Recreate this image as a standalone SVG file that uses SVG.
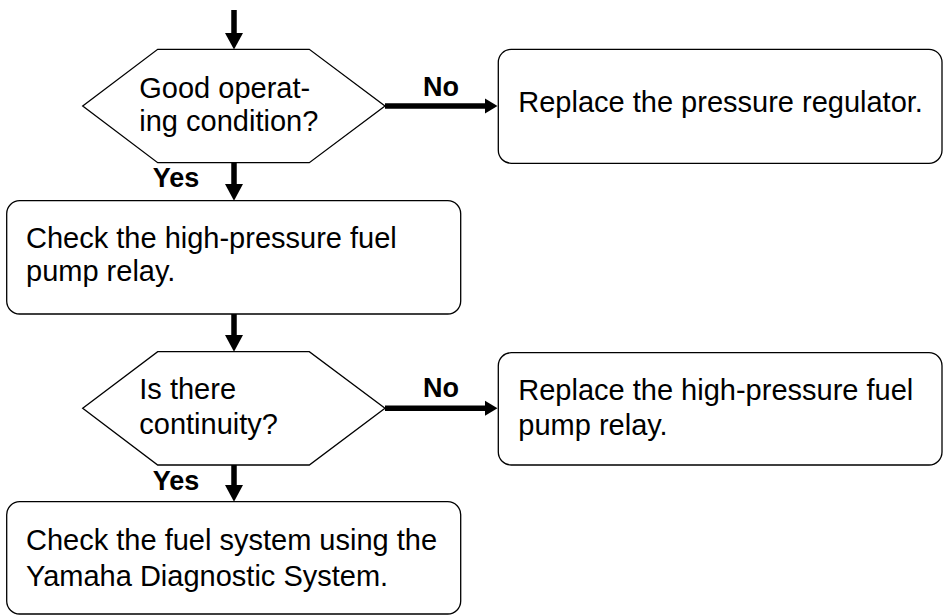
<svg xmlns="http://www.w3.org/2000/svg" width="943" height="615" viewBox="0 0 943 615">
  <style>
    .box { fill: #fff; stroke: #000; stroke-width: 1.3; }
    .txt { font-family: "Liberation Sans", Arial, sans-serif; font-size: 29px; fill: #000; }
    .lbl { font-family: "Liberation Sans", Arial, sans-serif; font-size: 27px; font-weight: bold; fill: #000; }
    .wire { stroke: #000; stroke-width: 5.5; fill: none; }
    .head { fill: #000; }
  </style>
  <rect width="943" height="615" fill="#fff"/>

  <g id="connectors">
    <!-- entry arrow -->
    <line class="wire" x1="234" y1="10" x2="234" y2="34"/>
    <polygon class="head" points="225,33 243,33 234,49.5"/>
    <!-- decision 1: No -->
    <line class="wire" x1="385" y1="106" x2="487" y2="106"/>
    <polygon class="head" points="485,98.5 485,113.5 497.5,106"/>
    <!-- decision 1: Yes -->
    <line class="wire" x1="234" y1="162.7" x2="234" y2="185"/>
    <polygon class="head" points="225,184 243,184 234,200.7"/>
    <!-- relay check to decision 2 -->
    <line class="wire" x1="234" y1="314" x2="234" y2="336"/>
    <polygon class="head" points="225,335 243,335 234,351.7"/>
    <!-- decision 2: No -->
    <line class="wire" x1="385" y1="408.3" x2="487" y2="408.3"/>
    <polygon class="head" points="485,400.8 485,415.8 497.5,408.3"/>
    <!-- decision 2: Yes -->
    <line class="wire" x1="234" y1="465" x2="234" y2="486"/>
    <polygon class="head" points="225,485 243,485 234,501.7"/>

    <text class="lbl" x="423" y="95.7">No</text>
    <text class="lbl" x="152.7" y="186.7">Yes</text>
    <text class="lbl" x="423" y="397.3">No</text>
    <text class="lbl" x="152.7" y="490">Yes</text>
  </g>

  <g id="decision-condition">
    <polygon class="box" points="82.7,106 157.7,49.3 309.3,49.3 385,106 309.3,162.7 157.7,162.7"/>
    <text class="txt" x="139.3" y="98.3">Good operat-</text>
    <text class="txt" x="139.3" y="131">ing condition?</text>
  </g>

  <g id="replace-regulator">
    <rect class="box" x="498.3" y="49.3" width="443.7" height="114" rx="13" ry="13"/>
    <text class="txt" x="518.3" y="111.7">Replace the pressure regulator.</text>
  </g>

  <g id="check-relay">
    <rect class="box" x="6.7" y="200.7" width="454" height="113.3" rx="13" ry="13"/>
    <text class="txt" x="26" y="248.3">Check the high-pressure fuel</text>
    <text class="txt" x="26" y="281">pump relay.</text>
  </g>

  <g id="decision-continuity">
    <polygon class="box" points="82.7,408.3 157.7,351.7 309.3,351.7 385,408.3 309.3,465 157.7,465"/>
    <text class="txt" x="139.3" y="399.3">Is there</text>
    <text class="txt" x="139.3" y="434.3">continuity?</text>
  </g>

  <g id="replace-relay">
    <rect class="box" x="498.3" y="352.7" width="443.7" height="112.3" rx="13" ry="13"/>
    <text class="txt" x="518.3" y="400">Replace the high-pressure fuel</text>
    <text class="txt" x="518.3" y="435">pump relay.</text>
  </g>

  <g id="check-fuel-system">
    <rect class="box" x="6.7" y="501.7" width="454" height="112.3" rx="13" ry="13"/>
    <text class="txt" x="26" y="550">Check the fuel system using the</text>
    <text class="txt" x="26" y="586">Yamaha Diagnostic System.</text>
  </g>
</svg>
